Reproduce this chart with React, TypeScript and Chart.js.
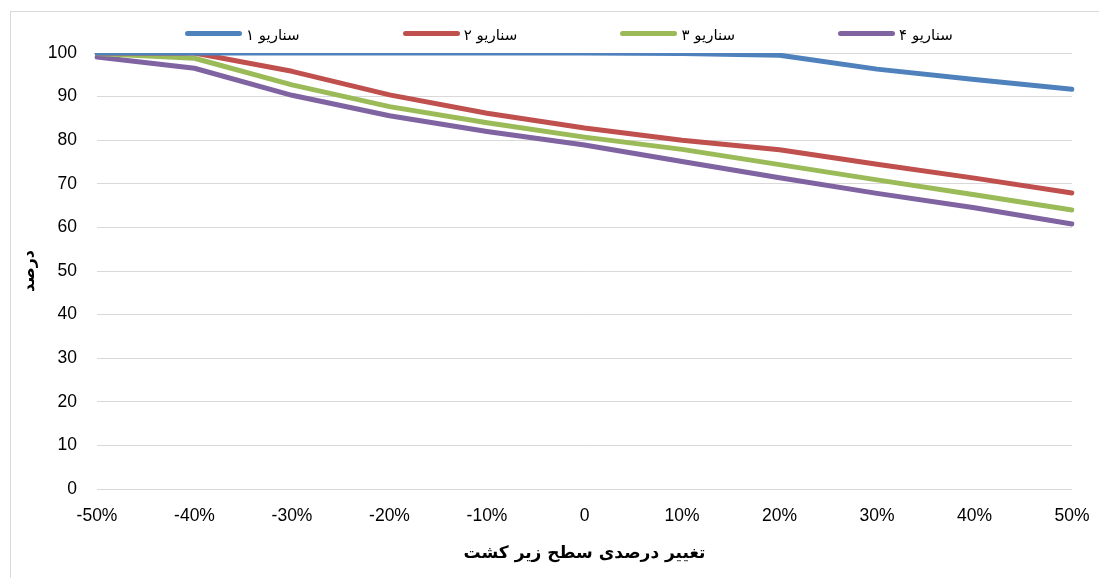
import React, { useEffect, useRef } from "react";
import { Chart, registerables } from "chart.js";

Chart.register(...registerables);

const categories = ["-50%", "-40%", "-30%", "-20%", "-10%", "0", "10%", "20%", "30%", "40%", "50%"];
const seriesNames = ["سناریو ۱", "سناریو ۲", "سناریو ۳", "سناریو ۴"];
const scenario1 = [100, 100, 100, 100, 100, 100, 99.9, 99.5, 96.3, 93.9, 91.7];
const scenario2 = [100, 100, 95.8, 90.4, 86.2, 82.8, 80.0, 77.8, 74.5, 71.3, 67.9];
const scenario3 = [99.9, 98.8, 92.7, 87.7, 84.0, 80.7, 77.9, 74.4, 70.9, 67.5, 64.0];
const scenario4 = [99.1, 96.5, 90.3, 85.6, 82.0, 78.9, 75.1, 71.4, 67.8, 64.5, 60.8];
const yTicks = [0, 10, 20, 30, 40, 50, 60, 70, 80, 90, 100];
const colors = ["#4F81BD", "#C0504D", "#9BBB59", "#8064A2"];
const xTitle = "تغییر درصدی سطح زیر کشت";
const yTitle = "درصد";

export default function App() {
  const ref = useRef<HTMLCanvasElement | null>(null);
  useEffect(() => {
    if (!ref.current) return;
    const all = [scenario1, scenario2, scenario3, scenario4];
    const chart = new Chart(ref.current, {
      type: "line",
      data: {
        labels: categories,
        datasets: all.map((d, i) => ({
          label: seriesNames[i],
          data: d,
          borderColor: colors[i],
          backgroundColor: colors[i],
          borderWidth: 5,
          pointRadius: 0,
          tension: 0,
          borderCapStyle: "round" as const,
          borderJoinStyle: "round" as const,
        })),
      },
      options: {
        animation: false,
        responsive: false,
        layout: { padding: { top: 53, right: 27, bottom: 0, left: 0 } },
        plugins: { legend: { display: false }, tooltip: { enabled: false } },
        scales: {
          x: {
            offset: false,
            grid: { display: false, drawTicks: false },
            border: { display: false },
            ticks: {
              color: "#000",
              padding: 17,
              maxRotation: 0,
              autoSkip: false,
              font: { family: "'Liberation Sans', Arial, sans-serif", size: 17.5 },
            },
            title: {
              display: true,
              text: xTitle,
              color: "#000",
              padding: { top: 0, bottom: 14 },
              font: { family: "'DejaVu Sans', sans-serif", size: 17, weight: "bold" },
            },
            afterFit: (s: any) => {
              s.height = 89;
              s.paddingLeft = 0;
              s.paddingRight = 0;
            },
          },
          y: {
            min: 0,
            max: 100,
            afterBuildTicks: (s: any) => {
              s.ticks = yTicks.map((v) => ({ value: v }));
            },
            grid: { color: "#d9d9d9", lineWidth: 1, drawTicks: false },
            border: { display: false },
            ticks: {
              color: "#000",
              padding: 20,
              font: { family: "'Liberation Sans', Arial, sans-serif", size: 17.5 },
            },
            title: {
              display: true,
              text: yTitle,
              color: "#000",
              padding: { top: 20, bottom: 0 },
              font: { family: "'DejaVu Sans', sans-serif", size: 16, weight: "bold" },
            },
            afterFit: (s: any) => {
              s.width = 97;
              s.paddingTop = 0;
              s.paddingBottom = 0;
            },
          },
        },
      },
    });
    return () => chart.destroy();
  }, []);

  return (
    <div style={{ position: "absolute", left: 0, top: 0, width: 1099, height: 578, overflow: "hidden", background: "#fff" }}>
      <div
        style={{
          position: "absolute",
          left: 10,
          top: 11,
          width: 1200,
          height: 700,
          border: "1px solid #d9d9d9",
        }}
      />
      <canvas ref={ref} width={1099} height={578} style={{ position: "absolute", left: 0, top: 0 }} />
      {seriesNames.map((name, i) => (
        <div
          key={name}
          style={{
            position: "absolute",
            left: 185 + i * 217.7,
            top: 22,
            height: 22,
            display: "flex",
            alignItems: "center",
            whiteSpace: "nowrap",
          }}
        >
          <div style={{ width: 57, height: 5, borderRadius: 3, background: colors[i] }} />
          <span
            style={{
              marginLeft: 4,
              fontFamily: "'DejaVu Sans', sans-serif",
              fontSize: 15,
              color: "#000",
              lineHeight: "22px",
              position: "relative",
              top: 2,
            }}
          >
            {name}
          </span>
        </div>
      ))}
    </div>
  );
}
